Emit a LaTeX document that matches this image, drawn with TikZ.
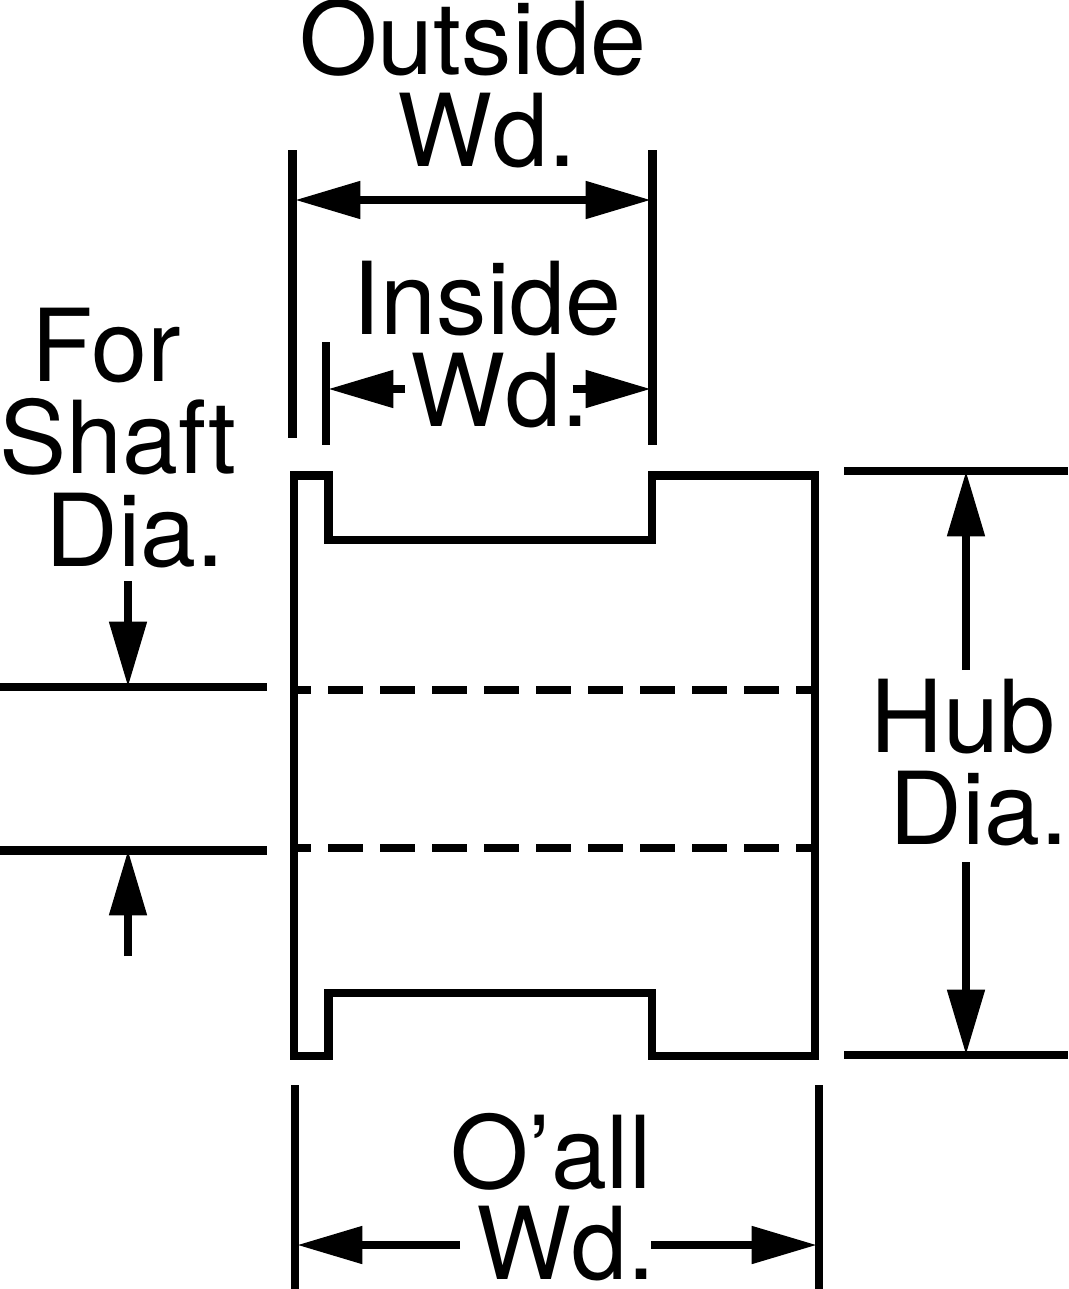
\documentclass[tikz,border=0pt]{standalone}
\usepackage{fontspec}
\setmainfont{TeX Gyre Heros}
\usetikzlibrary{arrows.meta}
\tikzset{
  dimline/.style={line width=6.1pt},
  dimarrow/.style={line width=6.1pt, -{Triangle[length=49pt,width=27pt]}},
  dimlabel/.style={font=\fontsize{75.5}{75.5}\selectfont, inner sep=0pt, anchor=base},
}
\begin{document}
\begin{tikzpicture}[x=0.75pt, y=-0.75pt]
    \useasboundingbox (0,0) rectangle (1068,1289);

    % Define labels
    \node[dimlabel] (outside) at (473,74) {Outside};
    \node[dimlabel] (outsidewd) at (487,166) {Wd.};
    \node[dimlabel] (inside) at (487,334) {Inside};
    \node[dimlabel] (insidewd) at (500,426) {Wd.};
    \node[dimlabel] (for) at (106,381) {For};
    \node[dimlabel] (shaft) at (118,473) {Shaft};
    \node[dimlabel] (shaftdia) at (135,566) {Dia.};
    \node[dimlabel] (hub) at (963,752) {Hub};
    \node[dimlabel] (hubdia) at (979,844) {Dia.};
    \node[dimlabel] (oall) at (551,1188) {O’all};
    \node[dimlabel] (oallwd) at (566,1279) {Wd.};

    % Define end points
    \coordinate (A1) at (292.5,150);
    \coordinate (A2) at (292.5,438);
    \coordinate (B1) at (652.5,150);
    \coordinate (B2) at (652.5,444.5);
    \coordinate (C1) at (326,342);
    \coordinate (C2) at (326,444.5);
    \coordinate (D1) at (400,200);
    \coordinate (D2) at (295,200);
    \coordinate (D3) at (651,200);
    \coordinate (E1) at (405,389);
    \coordinate (E2) at (328,389);
    \coordinate (E3) at (572.5,389);
    \coordinate (E4) at (651,389);
    \coordinate (F1) at (0,687);
    \coordinate (F2) at (267,687);
    \coordinate (G1) at (0,850.5);
    \coordinate (G2) at (267,850.5);
    \coordinate (H1) at (128,581);
    \coordinate (H2) at (128,687);
    \coordinate (J1) at (128,956);
    \coordinate (J2) at (128,850);
    \coordinate (K1) at (844,471);
    \coordinate (K2) at (1068,471);
    \coordinate (L1) at (844,1055);
    \coordinate (L2) at (1068,1055);
    \coordinate (M1) at (966,670);
    \coordinate (M2) at (966,471);
    \coordinate (N1) at (966,862);
    \coordinate (N2) at (966,1055);
    \coordinate (P1) at (295,1085);
    \coordinate (P2) at (295,1289);
    \coordinate (Q1) at (819,1085);
    \coordinate (Q2) at (819,1289);
    \coordinate (R1) at (460,1245);
    \coordinate (R2) at (297,1245);
    \coordinate (S1) at (651,1245);
    \coordinate (S2) at (817,1245);
    \coordinate (T1) at (298,690.3);
    \coordinate (T2) at (812,690.3);
    \coordinate (U1) at (298,848.3);
    \coordinate (U2) at (812,848.3);

    % Hub outline
    \draw[dimline, miter limit=10] (294,475.5) -- (328.5,475.5) -- (328.5,540) -- (651.7,540) -- (651.7,475.5)
        -- (815,475.5) -- (815,1056) -- (651.7,1056) -- (651.7,993) -- (328.5,993) -- (328.5,1056)
        -- (294,1056) -- cycle;

    % Define edges
    \draw[dimline] (A1) -- (A2);
    \draw[dimline] (B1) -- (B2);
    \draw[dimline] (C1) -- (C2);
    \draw[dimline] (F1) -- (F2);
    \draw[dimline] (G1) -- (G2);
    \draw[dimline] (K1) -- (K2);
    \draw[dimline] (L1) -- (L2);
    \draw[dimline] (P1) -- (P2);
    \draw[dimline] (Q1) -- (Q2);
    \draw[dimline, dash pattern=on 26.25pt off 12.75pt, dash phase=16.5pt] (T1) -- (T2);
    \draw[dimline, dash pattern=on 26.25pt off 12.75pt, dash phase=16.5pt] (U1) -- (U2);
    \draw[dimarrow] (D1) -- (D2);
    \draw[dimarrow] (D1) -- (D3);
    \draw[dimarrow] (E1) -- (E2);
    \draw[dimarrow] (E3) -- (E4);
    \draw[dimarrow] (H1) -- (H2);
    \draw[dimarrow] (J1) -- (J2);
    \draw[dimarrow] (M1) -- (M2);
    \draw[dimarrow] (N1) -- (N2);
    \draw[dimarrow] (R1) -- (R2);
    \draw[dimarrow] (S1) -- (S2);
\end{tikzpicture}
\end{document}
